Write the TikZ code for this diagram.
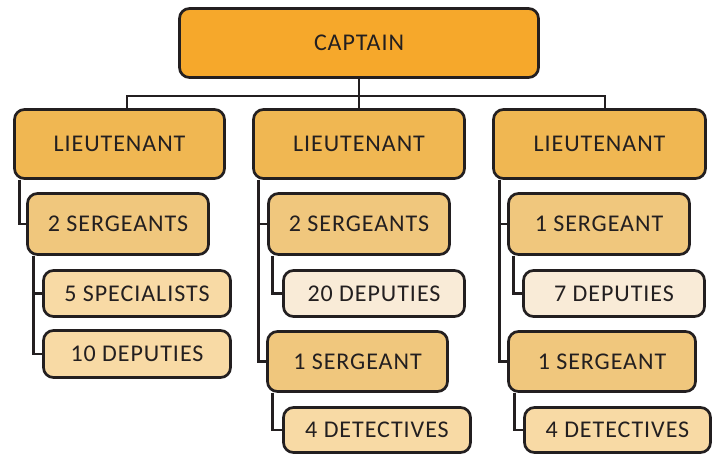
\documentclass[tikz,border=0pt]{standalone}
\usepackage{fontspec}
\setmainfont{Carlito}[LetterSpace=4]
\definecolor{ink}{HTML}{231F20}
\definecolor{capc}{HTML}{F6A82B}
\definecolor{ltc}{HTML}{F0B752}
\definecolor{sgc}{HTML}{F0C77D}
\definecolor{lic}{HTML}{F8DAA5}
\definecolor{vlc}{HTML}{F9EBD7}
\begin{document}
\begin{tikzpicture}[x=1pt,y=-1pt,
  box/.style={draw=ink,line width=2.7pt,rounded corners=10pt,text=ink,
    font=\fontsize{24}{27}\selectfont,inner sep=0pt,anchor=center,
    text depth=-1pt},
  conn/.style={draw=ink,line width=2.7pt}]
\useasboundingbox (0,0) rectangle (717,455);
\node[box,fill=capc,minimum width=359pt,minimum height=69pt] (cap) at (359,43) {CAPTAIN};
\node[box,fill=ltc,minimum width=210pt,minimum height=69pt] (l1) at (119.5,144) {LIEUTENANT};
\node[box,fill=ltc,minimum width=211pt,minimum height=69pt] (l2) at (359,144) {LIEUTENANT};
\node[box,fill=ltc,minimum width=212pt,minimum height=69pt] (l3) at (599.5,144) {LIEUTENANT};
\node[box,fill=sgc,minimum width=181pt,minimum height=61pt] (s1) at (118,224) {2 SERGEANTS};
\node[box,fill=lic,minimum width=187pt,minimum height=46pt] (a1) at (137,293.5) {5 SPECIALISTS};
\node[box,fill=lic,minimum width=187pt,minimum height=47pt] (b1) at (137,354) {10 DEPUTIES};
\node[box,fill=sgc,minimum width=181pt,minimum height=61pt] (s2) at (359,224) {2 SERGEANTS};
\node[box,fill=vlc,minimum width=181pt,minimum height=46pt] (a2) at (374,293.5) {20 DEPUTIES};
\node[box,fill=sgc,minimum width=180pt,minimum height=60pt] (t2) at (357.5,361.5) {1 SERGEANT};
\node[box,fill=lic,minimum width=187pt,minimum height=45pt] (d2) at (377,430) {4 DETECTIVES};
\node[box,fill=sgc,minimum width=181pt,minimum height=61pt] (s3) at (599,224) {1 SERGEANT};
\node[box,fill=vlc,minimum width=181pt,minimum height=46pt] (a3) at (614,293.5) {7 DEPUTIES};
\node[box,fill=sgc,minimum width=187pt,minimum height=60pt] (t3) at (602,361.5) {1 SERGEANT};
\node[box,fill=lic,minimum width=186pt,minimum height=45pt] (d3) at (617.5,430) {4 DETECTIVES};
\coordinate (j) at (359,96);
\draw[conn] (cap.south) -- (j);
\draw[conn] ([xshift=7.5pt]l1.north) |- (j) -| ([xshift=5.5pt]l3.north);
\draw[conn] (j) -- (l2.north);
\draw[conn] ([xshift=6pt]l1.south west) |- (s1.west);
\draw[conn] ([xshift=7pt]s1.south west) |- (a1.west);
\draw[conn] ([xshift=7pt]s1.south west) |- (b1.west);
\draw[conn] ([xshift=6pt]l2.south west) |- (s2.west);
\draw[conn] ([xshift=6pt]l2.south west) |- (t2.west);
\draw[conn] ([xshift=5pt]s2.south west) |- (a2.west);
\draw[conn] ([xshift=6pt]t2.south west) |- (d2.west);
\draw[conn] ([xshift=7pt]l3.south west) |- (s3.west);
\draw[conn] ([xshift=7pt]l3.south west) |- (t3.west);
\draw[conn] ([xshift=6pt]s3.south west) |- (a3.west);
\draw[conn] ([xshift=7pt]t3.south west) |- (d3.west);
\end{tikzpicture}
\end{document}
